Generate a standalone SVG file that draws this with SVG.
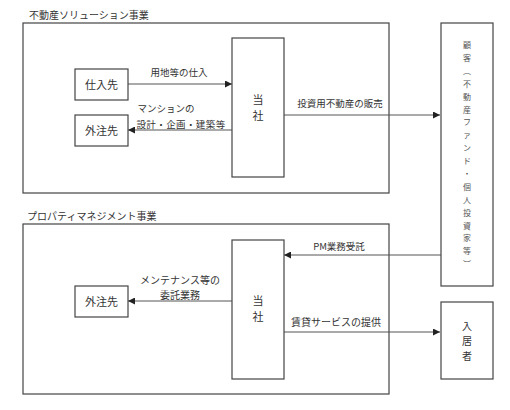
<svg xmlns="http://www.w3.org/2000/svg" width="510" height="410" viewBox="0 0 510 410">
<style>
text{font-family:"Noto Sans CJK JP","Noto Sans CJK SC",sans-serif;fill:#333}
.box{fill:#fff;stroke:#444;stroke-width:1.2}
.frame{fill:none;stroke:#444;stroke-width:1.2}
.lbl{font-size:10px}
.node{font-size:11px;text-anchor:middle}
.vt{font-size:8px;text-anchor:middle;fill:#555}
.edge{font-size:9.5px;text-anchor:middle}
.ln{stroke:#555;stroke-width:1;fill:none;marker-end:url(#ah)}
</style>
<defs>
<marker id="ah" viewBox="0 0 10 10" refX="10" refY="5" markerWidth="7" markerHeight="7" orient="auto" markerUnits="userSpaceOnUse">
<path d="M0,0 L10,5 L0,10 z" fill="#222"/>
</marker>
</defs>
<rect width="510" height="410" fill="#fff"/>
<g id="section1">
<text class="lbl" x="29" y="19">不動産ソリューション事業</text>
<rect class="frame" x="23" y="23" width="366" height="170"/>
</g>
<g id="section2">
<text class="lbl" x="27" y="220">プロパティマネジメント事業</text>
<rect class="frame" x="23" y="224" width="366" height="170"/>
</g>
<g id="connectors">
<line class="ln" x1="128" y1="84" x2="232" y2="84"/>
<line class="ln" x1="232" y1="130" x2="128" y2="130"/>
<line class="ln" x1="284" y1="115" x2="440" y2="115"/>
<line class="ln" x1="441" y1="255" x2="284" y2="255"/>
<line class="ln" x1="284" y1="332" x2="440" y2="332"/>
<line class="ln" x1="232" y1="301" x2="128" y2="301"/>
<text class="edge" x="179" y="76">用地等の仕入</text>
<text class="edge" x="166" y="112">マンションの</text>
<text class="edge" x="181" y="128" letter-spacing="0.4">設計・企画・建築等</text>
<text class="edge" x="340" y="107">投資用不動産の販売</text>
<text class="edge" x="339" y="250">PM業務受託</text>
<text class="edge" x="336" y="326" style="font-size:10px">賃貸サービスの提供</text>
<text class="edge" x="180" y="284" style="font-size:10px">メンテナンス等の</text>
<text class="edge" x="180" y="299" style="font-size:10px">委託業務</text>
</g>
<g id="shiiresaki">
<rect class="box" x="75" y="69" width="53" height="31"/>
<text class="node" x="101.5" y="88.5">仕入先</text>
</g>
<g id="gaichusaki1">
<rect class="box" x="75" y="115" width="53" height="31"/>
<text class="node" x="101.5" y="134.5">外注先</text>
</g>
<g id="tousha1">
<rect class="box" x="232" y="38" width="52" height="139"/>
<text class="node" x="258" y="104">当</text>
<text class="node" x="258" y="120">社</text>
</g>
<g id="kokyaku">
<rect class="box" x="441" y="23" width="52" height="263"/>
<text class="vt" x="467" y="48">顧<tspan x="467" dy="12.9">客</tspan><tspan x="467" dy="12.9">︵</tspan><tspan x="467" dy="12.9">不</tspan><tspan x="467" dy="12.9">動</tspan><tspan x="467" dy="12.9">産</tspan><tspan x="467" dy="12.9">フ</tspan><tspan x="467" dy="12.9">ァ</tspan><tspan x="467" dy="12.9">ン</tspan><tspan x="467" dy="12.9">ド</tspan><tspan x="467" dy="12.9">・</tspan><tspan x="467" dy="12.9">個</tspan><tspan x="467" dy="12.9">人</tspan><tspan x="467" dy="12.9">投</tspan><tspan x="467" dy="12.9">資</tspan><tspan x="467" dy="12.9">家</tspan><tspan x="467" dy="12.9">等</tspan><tspan x="467" dy="12.9">︶</tspan></text>
</g>
<g id="gaichusaki2">
<rect class="box" x="75" y="286" width="53" height="31"/>
<text class="node" x="101.5" y="305.5">外注先</text>
</g>
<g id="tousha2">
<rect class="box" x="232" y="240" width="52" height="139"/>
<text class="node" x="258" y="305">当</text>
<text class="node" x="258" y="321">社</text>
</g>
<g id="nyukyosha">
<rect class="box" x="441" y="302" width="52" height="77"/>
<text class="node" x="467" y="330" style="font-size:10px">入<tspan x="467" dy="15">居</tspan><tspan x="467" dy="15">者</tspan></text>
</g>
</svg>
